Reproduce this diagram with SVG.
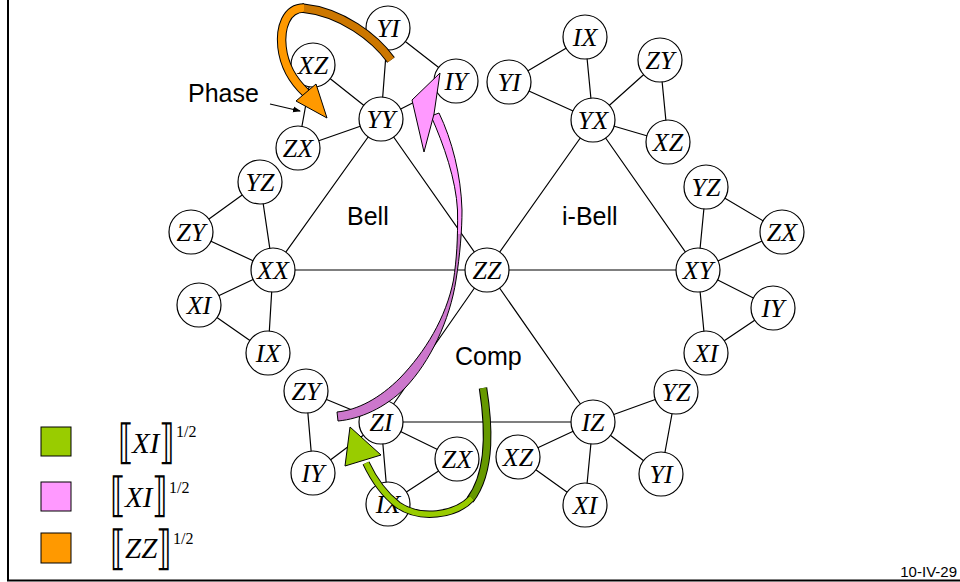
<svg xmlns="http://www.w3.org/2000/svg" width="960" height="582" viewBox="0 0 960 582">
<defs>
<style>
.e{stroke:#000;stroke-width:1.2;fill:none}
.n circle{fill:#fff;stroke:#000;stroke-width:1.2}
.n text{font-family:"Liberation Serif",serif;font-style:italic;font-size:26px;text-anchor:middle}
.t{font-family:"Liberation Sans",Arial,sans-serif;font-size:25px}
.lg{font-family:"Liberation Serif",serif;font-style:italic;font-size:29px}
.br{font-family:"DejaVu Serif",serif;font-size:32px}
.sp{font-family:"Liberation Serif",serif;font-size:16px}
</style>
<marker id="ah" markerWidth="8" markerHeight="8" refX="7" refY="4" orient="auto" markerUnits="userSpaceOnUse">
<path d="M0,1 L8,4 L0,7 Z" fill="#000"/>
</marker>
<linearGradient id="pg" gradientUnits="userSpaceOnUse" x1="0" y1="100" x2="0" y2="420">
<stop offset="0" stop-color="#FF99FF"/>
<stop offset="0.42" stop-color="#FF99FF"/>
<stop offset="0.42" stop-color="#CC77CC"/>
<stop offset="1" stop-color="#CC77CC"/>
</linearGradient>
</defs>
<rect width="960" height="582" fill="#fff"/>
<line x1="8" y1="0" x2="8" y2="581" stroke="#000" stroke-width="2"/>
<line x1="7" y1="580.5" x2="960" y2="580.5" stroke="#000" stroke-width="2"/>
<text x="957" y="577" font-family="Liberation Sans,Arial,sans-serif" font-size="15" text-anchor="end">10-IV-29</text>

<g id="connectors">
<path class="e" d="M487,270 L381,119 M487,270 L593,120 M273,270 L698,270 M487,270 L381,422 M487,270 L593,422 M381,119 L273,270 M593,120 L698,270 M381,422 L593,422"/>
<path class="e" d="M381,119 L388,28 M381,119 L313,65 M381,119 L456,81 M381,119 L298,148 M388,28 L456,81 M313,65 L298,148"/>
<path class="e" d="M273,270 L260,182 M273,270 L191,232 M273,270 L199,305 M273,270 L268,353 M260,182 L191,232 M199,305 L268,353"/>
<path class="e" d="M593,120 L585,37 M593,120 L509,82 M593,120 L660,60 M593,120 L668,142 M585,37 L509,82 M660,60 L668,142"/>
<path class="e" d="M698,270 L706,187 M698,270 L782,232 M698,270 L773,308 M698,270 L706,353 M706,187 L782,232 M773,308 L706,353"/>
<path class="e" d="M381,422 L306,391 M381,422 L313,473 M381,422 L388,504 M381,422 L457,459 M306,391 L313,473 M388,504 L457,459"/>
<path class="e" d="M593,422 L676,392 M593,422 L661,474 M593,422 L585,505 M593,422 L518,457 M676,392 L661,474 M518,457 L585,505"/>
<line class="e" x1="270" y1="104" x2="300" y2="111" marker-end="url(#ah)"/>
</g>

<g id="n-ZZ" class="n"><circle cx="487" cy="270" r="22"/><text x="487" y="279">ZZ</text></g>
<g id="n-YY" class="n"><circle cx="381" cy="119" r="22"/><text x="381" y="128">YY</text></g>
<g id="n-YY-YI" class="n"><circle cx="388" cy="28" r="22"/><text x="388" y="37">YI</text></g>
<g id="n-YY-XZ" class="n"><circle cx="313" cy="65" r="22"/><text x="313" y="74">XZ</text></g>
<g id="n-YY-IY" class="n"><circle cx="456" cy="81" r="22"/><text x="456" y="90">IY</text></g>
<g id="n-YY-ZX" class="n"><circle cx="298" cy="148" r="22"/><text x="298" y="157">ZX</text></g>
<g id="n-XX" class="n"><circle cx="273" cy="270" r="22"/><text x="273" y="279">XX</text></g>
<g id="n-XX-YZ" class="n"><circle cx="260" cy="182" r="22"/><text x="260" y="191">YZ</text></g>
<g id="n-XX-ZY" class="n"><circle cx="191" cy="232" r="22"/><text x="191" y="241">ZY</text></g>
<g id="n-XX-XI" class="n"><circle cx="199" cy="305" r="22"/><text x="199" y="314">XI</text></g>
<g id="n-XX-IX" class="n"><circle cx="268" cy="353" r="22"/><text x="268" y="362">IX</text></g>
<g id="n-YX" class="n"><circle cx="593" cy="120" r="22"/><text x="593" y="129">YX</text></g>
<g id="n-YX-IX" class="n"><circle cx="585" cy="37" r="22"/><text x="585" y="46">IX</text></g>
<g id="n-YX-YI" class="n"><circle cx="509" cy="82" r="22"/><text x="509" y="91">YI</text></g>
<g id="n-YX-ZY" class="n"><circle cx="660" cy="60" r="22"/><text x="660" y="69">ZY</text></g>
<g id="n-YX-XZ" class="n"><circle cx="668" cy="142" r="22"/><text x="668" y="151">XZ</text></g>
<g id="n-XY" class="n"><circle cx="698" cy="270" r="22"/><text x="698" y="279">XY</text></g>
<g id="n-XY-YZ" class="n"><circle cx="706" cy="187" r="22"/><text x="706" y="196">YZ</text></g>
<g id="n-XY-ZX" class="n"><circle cx="782" cy="232" r="22"/><text x="782" y="241">ZX</text></g>
<g id="n-XY-IY" class="n"><circle cx="773" cy="308" r="22"/><text x="773" y="317">IY</text></g>
<g id="n-XY-XI" class="n"><circle cx="706" cy="353" r="22"/><text x="706" y="362">XI</text></g>
<g id="n-ZI" class="n"><circle cx="381" cy="422" r="22"/><text x="381" y="431">ZI</text></g>
<g id="n-ZI-ZY" class="n"><circle cx="306" cy="391" r="22"/><text x="306" y="400">ZY</text></g>
<g id="n-ZI-IY" class="n"><circle cx="313" cy="473" r="22"/><text x="313" y="482">IY</text></g>
<g id="n-ZI-IX" class="n"><circle cx="388" cy="504" r="22"/><text x="388" y="513">IX</text></g>
<g id="n-ZI-ZX" class="n"><circle cx="457" cy="459" r="22"/><text x="457" y="468">ZX</text></g>
<g id="n-IZ" class="n"><circle cx="593" cy="422" r="22"/><text x="593" y="431">IZ</text></g>
<g id="n-IZ-YZ" class="n"><circle cx="676" cy="392" r="22"/><text x="676" y="401">YZ</text></g>
<g id="n-IZ-YI" class="n"><circle cx="661" cy="474" r="22"/><text x="661" y="483">YI</text></g>
<g id="n-IZ-XI" class="n"><circle cx="585" cy="505" r="22"/><text x="585" y="514">XI</text></g>
<g id="n-IZ-XZ" class="n"><circle cx="518" cy="457" r="22"/><text x="518" y="466">XZ</text></g>

<g id="labels">
<text class="t" x="347" y="225">Bell</text>
<text class="t" x="562" y="225">i-Bell</text>
<text class="t" x="455" y="365">Comp</text>
<text class="t" x="188" y="102">Phase</text>
</g>

<g id="arrow-zz">
<path d="M391,60 C375,38 342,12 302,8" fill="none" stroke="#000" stroke-width="9.5"/>
<path d="M391,60 C375,38 342,12 302,8" fill="none" stroke="#CC7700" stroke-width="7.5"/>
<path d="M304,8 C286,8 280,28 282,47 C284,65 292,80 306,93" fill="none" stroke="#000" stroke-width="9.5"/>
<path d="M304,8 C286,8 280,28 282,47 C284,65 292,80 306,93" fill="none" stroke="#FF9900" stroke-width="7.5"/>
<path d="M296,101 L316,84 L327,118 Z" fill="#FF9900" stroke="#000" stroke-width="1"/>
</g>

<g id="arrow-xi-pink">
<path d="M338,421 C360,419 385,408 405,388 C430,362 450,320 456,280 C460,255 462,230 462,210 C461,175 452,140 439,113 L431,116 C444,145 456,180 457.5,210 C458,240 456.5,260 453.5,280 C446,318 425,352 400,378 C380,398 358,410 337,412 Z" fill="url(#pg)" stroke="#000" stroke-width="1"/>
<path d="M440,73 L412,100 L424,152 L434,114 Z" fill="#FF99FF" stroke="#000" stroke-width="1"/>
</g>

<g id="arrow-xi-green">
<path d="M483,388 C488,420 493,470 470,500" fill="none" stroke="#000" stroke-width="8.5"/>
<path d="M483,388 C488,420 493,470 470,500" fill="none" stroke="#669900" stroke-width="6.5"/>
<path d="M472,498 C455,516 420,520 398,505 C385,495 374,480 366,463" fill="none" stroke="#000" stroke-width="7.5"/>
<path d="M472,498 C455,516 420,520 398,505 C385,495 374,480 366,463" fill="none" stroke="#99CC00" stroke-width="5.5"/>
<path d="M350,427 L345,466 L381,455 Z" fill="#99CC00" stroke="#000" stroke-width="1"/>
</g>

<g id="legend">
<rect x="41" y="427" width="30" height="29" fill="#99CC00" stroke="#000" stroke-width="1"/>
<rect x="41" y="482" width="30" height="29" fill="#FF99FF" stroke="#000" stroke-width="1"/>
<rect x="41" y="533" width="30" height="30" fill="#FF9900" stroke="#000" stroke-width="1"/>
<text class="br" transform="translate(118,458) scale(1,1.48)">⟦</text><text class="lg" x="132" y="453">XI</text><text class="br" transform="translate(159,458) scale(1,1.48)">⟧</text><text class="sp" x="176" y="437">1/2</text>
<text class="br" transform="translate(110,511) scale(1,1.48)">⟦</text><text class="lg" x="125" y="507">XI</text><text class="br" transform="translate(152,511) scale(1,1.48)">⟧</text><text class="sp" x="169" y="493">1/2</text>
<text class="br" transform="translate(110,564) scale(1,1.48)">⟦</text><text class="lg" x="125" y="558">ZZ</text><text class="br" transform="translate(156,564) scale(1,1.48)">⟧</text><text class="sp" x="173" y="544">1/2</text>
</g>
</svg>
